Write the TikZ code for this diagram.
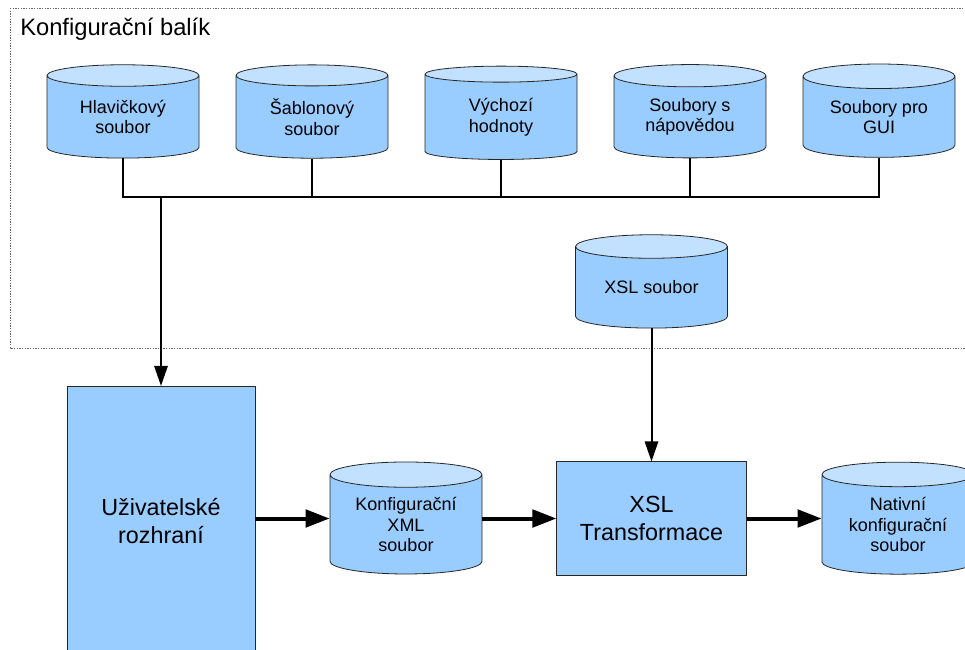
\documentclass[tikz,border=0pt]{standalone}
\usepackage{fontspec}
\setmainfont{Liberation Sans}
\usetikzlibrary{shapes.geometric,arrows.meta}

\definecolor{boxblue}{HTML}{99CCFF}
\definecolor{capblue}{HTML}{C2E0FF}

\tikzset{
  store/.style={cylinder, shape border rotate=90, aspect=0.25,
    draw=black!85, line width=0.6pt,
    cylinder uses custom fill, cylinder body fill=boxblue, cylinder end fill=capblue,
    minimum width=114pt, minimum height=70pt, inner sep=0pt,
    align=center, font=\fontsize{13.5}{15.5}\selectfont},
  block/.style={rectangle, draw=black!85, fill=boxblue, line width=0.6pt,
    inner sep=0pt, align=center, font=\fontsize{17.5}{20.5}\selectfont},
  stem/.style={line width=1.2pt},
  bus/.style={line width=1.6pt},
  feed/.style={line width=1.5pt, -{Triangle[length=15pt, width=10pt]}},
  flow/.style={line width=3pt, -{Triangle[length=18pt, width=13pt]}},
  frame/.style={draw=black!60, line width=0.6pt, dash pattern=on 1pt off 1pt}
}

\begin{document}
\begin{tikzpicture}[x=0.75pt, y=-0.75pt]
  \useasboundingbox (0,0) rectangle (965,650);

  % configuration package
  \draw[frame] (10,8) rectangle (980,348);
  \node[anchor=base west, inner sep=0pt, font=\fontsize{17.8}{20}\selectfont] (title) at (20,35) {Konfigurační balík};

  \node[store] (hdr) at (123,117) {Hlavičkový\\soubor};
  \node[store] (tpl) at (312,117) {Šablonový\\soubor};
  \node[store] (def) at (501,117) {Výchozí\\hodnoty};
  \node[store] (help) at (690,117) {Soubory s\\nápovědou};
  \node[store] (gui) at (879,117) {Soubory pro\\GUI};
  \node[store] (xsl) at (651.5,287.5) {XSL soubor};

  % processing chain
  \node[block, minimum width=141pt, minimum height=202pt] (ui) at (161,521) {Uživatelské\\rozhraní};
  \node[store, minimum height=84pt] (xml) at (406,524.5) {Konfigurační\\XML\\soubor};
  \node[block, minimum width=142pt, minimum height=85pt] (trans) at (651.5,518.5) {XSL\\Transformace};
  \node[store, minimum height=84pt] (native) at (898,524.5) {Nativní\\konfigurační\\soubor};

  % connectors
  \coordinate (junction) at (161,197);
  \draw[bus] (hdr.south) |- (junction) -| (gui.south);
  \foreach \src in {tpl,def,help}
    \draw[stem] (\src.south) -- (\src.south |- junction);
  \draw[feed] (junction) -- (ui.north);
  \draw[feed] (xsl.south) -- (trans.north);
  \draw[flow] (ui.east |- trans.west) -- (xml.west |- trans.west);
  \draw[flow] (xml.east |- trans.west) -- (trans.west);
  \draw[flow] (trans.east) -- (native.west |- trans.east);
\end{tikzpicture}
\end{document}
